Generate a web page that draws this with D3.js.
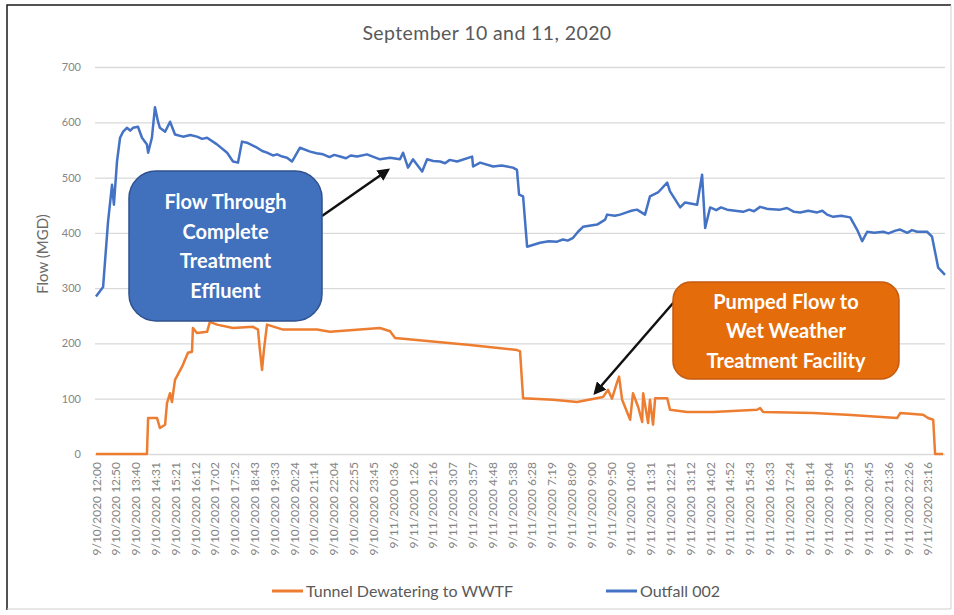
<!DOCTYPE html>
<html>
<head>
<meta charset="utf-8">
<script src="https://cdn.jsdelivr.net/npm/d3@7"></script>
<style>
  body { margin: 0; background: #fff; }
  svg { display: block; font-family: Lato, "Open Sans", sans-serif; }
</style>
</head>
<body>
<div id="chart"></div>
<script>
// x values are hours since 9/10/2020 12:00, y values are flow in MGD
var tickLabels = [
  "9/10/2020 12:00", "9/10/2020 12:50", "9/10/2020 13:40", "9/10/2020 14:31", "9/10/2020 15:21",
  "9/10/2020 16:12", "9/10/2020 17:02", "9/10/2020 17:52", "9/10/2020 18:43", "9/10/2020 19:33",
  "9/10/2020 20:24", "9/10/2020 21:14", "9/10/2020 22:04", "9/10/2020 22:55", "9/10/2020 23:45",
  "9/11/2020 0:36", "9/11/2020 1:26", "9/11/2020 2:16", "9/11/2020 3:07", "9/11/2020 3:57",
  "9/11/2020 4:48", "9/11/2020 5:38", "9/11/2020 6:28", "9/11/2020 7:19", "9/11/2020 8:09",
  "9/11/2020 9:00", "9/11/2020 9:50", "9/11/2020 10:40", "9/11/2020 11:31", "9/11/2020 12:21",
  "9/11/2020 13:12", "9/11/2020 14:02", "9/11/2020 14:52", "9/11/2020 15:43", "9/11/2020 16:33",
  "9/11/2020 17:24", "9/11/2020 18:14", "9/11/2020 19:04", "9/11/2020 19:55", "9/11/2020 20:45",
  "9/11/2020 21:36", "9/11/2020 22:26", "9/11/2020 23:16"
];

var yTicks = [0, 100, 200, 300, 400, 500, 600, 700];

var outfallHours = [0, 0.30, 0.51, 0.68, 0.76, 0.89, 1.02, 1.15, 1.31, 1.45, 1.57, 1.78, 1.95, 2.16, 2.21,
  2.37, 2.50, 2.63, 2.71, 2.93, 3.14, 3.35, 3.69, 4.0, 4.28, 4.5, 4.71, 5.13, 5.56, 5.81,
  6.02, 6.19, 6.40, 6.83, 7.05, 7.25, 7.5, 7.68, 7.9, 8.10, 8.31, 8.65, 9.08, 9.35, 9.63,
  9.9, 10.1, 10.35, 10.6, 10.8, 11.07, 11.49, 12.04, 12.47, 12.89, 13.02, 13.23, 13.44, 13.83, 14.04,
  14.3, 14.59, 14.8, 15.0, 15.31, 15.95, 15.99, 16.29, 16.84, 17.2, 17.68, 17.85, 17.94, 18.11, 18.28,
  18.83, 19.2, 19.55, 19.8, 20.0, 20.23, 20.44, 20.65, 21.25, 21.59, 21.67, 22.0, 22.22, 22.5, 22.7,
  22.94, 23.28, 23.49, 23.83, 24.22, 24.34, 24.77, 24.98, 25.49, 25.70, 25.83, 26.04, 26.3, 26.5, 26.76,
  27.1, 27.44, 27.7, 27.9, 28.16, 28.5, 29.01, 29.3, 29.6, 29.86, 30.2, 30.58, 30.8, 31.0, 31.26,
  31.6, 31.98, 32.27, 32.49, 32.70, 33.0, 33.38, 33.6, 33.9, 34.10, 34.4, 34.6, 34.82, 35.24, 35.45,
  35.67, 35.71, 36.00];
var outfallFlow = [285, 302, 420, 487, 451, 529, 572, 583, 590, 585, 590, 592, 572, 560, 545,
  572, 627, 601, 590, 583, 601, 578, 574, 577, 574, 570, 572, 560, 545, 529,
  527, 565, 563, 554, 548, 545, 540, 542, 538, 536, 529, 554, 547, 544, 542,
  537, 541, 538, 535, 540, 538, 542, 533, 536, 533, 545, 518, 533, 511, 533,
  530, 529, 526, 532, 529, 538, 520, 527, 520, 522, 518, 514, 469, 466, 375,
  382, 385, 384, 388, 386, 391, 402, 411, 415, 424, 433, 431, 433, 437, 440,
  442, 433, 466, 473, 491, 475, 446, 455, 451, 505, 409, 446, 441, 446, 442,
  440, 438, 442, 439, 447, 443, 442, 445, 438, 437, 440, 437, 440, 433, 429,
  431, 428, 406, 385, 402, 400, 402, 399, 404, 406, 400, 405, 402, 402, 393,
  346, 337, 324];

var tunnelHours = [0, 2.16, 2.21, 2.59, 2.71, 2.93, 3.01, 3.14, 3.22, 3.35, 3.65, 3.90, 4.07, 4.11, 4.28,
  4.71, 4.83, 5.13, 5.81, 6.66, 6.87, 6.95, 7.04, 7.12, 7.25, 7.93, 9.37, 9.92, 12.04, 12.47,
  12.68, 15.86, 17.85, 17.98, 18.11, 19.38, 20.40, 21.50, 21.71, 21.88, 22.09, 22.18, 22.31, 22.65, 22.77,
  22.99, 23.16, 23.20, 23.41, 23.49, 23.62, 23.71, 24.22, 24.34, 25.06, 26.17, 28.03, 28.16, 28.29, 30.41,
  31.85, 33.97, 34.10, 35.07, 35.28, 35.50, 35.58, 35.92];
var tunnelFlow = [0, 0, 65, 65, 47, 53, 92, 110, 94, 134, 158, 183, 185, 228, 219,
  221, 239, 234, 228, 230, 225, 188, 152, 188, 234, 225, 225, 221, 228, 222,
  210, 197, 188, 186, 101, 98, 94, 103, 116, 100, 129, 140, 98, 62, 110,
  85, 58, 110, 56, 98, 53, 101, 101, 80, 76, 76, 80, 83, 76, 74,
  71, 65, 74, 71, 65, 62, 0, 0];

var svgWidth = 954;
var svgHeight = 615;

function hoursOf(label) {
  var parts = label.split(" ");
  var day = +parts[0].split("/")[1];
  var hm = parts[1].split(":").map(Number);
  return (day - 10) * 24 + hm[0] + hm[1] / 60 - 12;
}

var svg = d3.select("#chart")
  .append("svg")
  .attr("width", svgWidth)
  .attr("height", svgHeight);

// frame of the pasted picture
svg.append("rect").attr("x", 0).attr("y", 0).attr("width", svgWidth).attr("height", svgHeight).attr("fill", "#fff");
svg.append("path").attr("d", "M7,610 V5 H951").attr("fill", "none").attr("stroke", "#1a1a1a").attr("stroke-width", 1.5);
svg.append("path").attr("d", "M951,5 V609 H7").attr("fill", "none").attr("stroke", "#d0d0d0").attr("stroke-width", 1);

var xScale = d3.scaleLinear().domain([0, 36]).range([96, 945]);
var yScale = d3.scaleLinear().domain([0, 700]).range([454, 67]);

// gridlines + y labels
var yAxis = svg.append("g")
  .attr("transform", "translate(95,0)")
  .call(d3.axisLeft(yScale).tickValues(yTicks).tickSize(-850).tickPadding(14));
yAxis.select(".domain").remove();
yAxis.selectAll(".tick line").attr("stroke", "#d9d9d9").attr("stroke-width", 1.3);
yAxis.selectAll(".tick text").attr("fill", "#858585").attr("font-size", "11px").attr("font-family", "Lato, sans-serif");

// category labels along the bottom
var xAxis = svg.append("g")
  .attr("transform", "translate(0,454)")
  .call(d3.axisBottom(xScale)
    .tickValues(tickLabels.map(hoursOf))
    .tickSize(0)
    .tickFormat(function(d, i) { return tickLabels[i]; }));
xAxis.select(".domain").remove();
xAxis.selectAll(".tick text")
  .attr("transform", "rotate(-90)")
  .attr("text-anchor", "end")
  .attr("x", -8)
  .attr("y", 0)
  .attr("dy", "0.35em")
  .attr("fill", "#858585")
  .attr("font-size", "12px")
  .attr("font-family", "Lato, sans-serif");

var line = d3.line()
  .x(function(d) { return xScale(d[0]); })
  .y(function(d) { return yScale(d[1]); });

var tunnel = tunnelHours.map(function(h, i) { return [h, tunnelFlow[i]]; });
var outfall = outfallHours.map(function(h, i) { return [h, outfallFlow[i]]; });

svg.append("path").datum(tunnel)
  .attr("d", line).attr("fill", "none")
  .attr("stroke", "#ed7d31").attr("stroke-width", 2.5).attr("stroke-linejoin", "round");
svg.append("path").datum(outfall)
  .attr("d", line).attr("fill", "none")
  .attr("stroke", "#4472c4").attr("stroke-width", 2.5).attr("stroke-linejoin", "round");

// title
svg.append("text")
  .attr("x", 487).attr("y", 40)
  .attr("text-anchor", "middle")
  .attr("font-size", "19.5px")
  .attr("letter-spacing", "0.4px")
  .attr("fill", "#595959")
  .text("September 10 and 11, 2020");

// y axis title
svg.append("text")
  .attr("transform", "translate(48,254) rotate(-90)")
  .attr("text-anchor", "middle")
  .attr("font-size", "15px")
  .attr("fill", "#6b6b6b")
  .text("Flow (MGD)");

// legend
var legend = [
  { name: "Tunnel Dewatering to WWTF", color: "#ed7d31", x: 272 },
  { name: "Outfall 002", color: "#4472c4", x: 606 }
];
legend.forEach(function(l) {
  svg.append("line").attr("x1", l.x).attr("x2", l.x + 31).attr("y1", 591).attr("y2", 591)
    .attr("stroke", l.color).attr("stroke-width", 3);
  svg.append("text").attr("x", l.x + 34).attr("y", 597)
    .attr("font-size", "16px").attr("fill", "#595959").text(l.name);
});

// arrows
var defs = svg.append("defs");
defs.append("marker").attr("id", "arrow")
  .attr("viewBox", "0 0 10 10").attr("refX", 8).attr("refY", 5)
  .attr("markerWidth", 5).attr("markerHeight", 5).attr("orient", "auto")
  .append("path").attr("d", "M0,0 L10,5 L0,10 z").attr("fill", "#111");

svg.append("line").attr("x1", 322).attr("y1", 216).attr("x2", 388).attr("y2", 170)
  .attr("stroke", "#111").attr("stroke-width", 2.5).attr("marker-end", "url(#arrow)");
svg.append("line").attr("x1", 674).attr("y1", 302).attr("x2", 595).attr("y2", 393)
  .attr("stroke", "#111").attr("stroke-width", 2.5).attr("marker-end", "url(#arrow)");

// callout boxes
function callout(x, y, w, h, r, fill, stroke, lines, lineY) {
  svg.append("rect").attr("x", x).attr("y", y).attr("width", w).attr("height", h)
    .attr("rx", r).attr("ry", r)
    .attr("fill", fill).attr("stroke", stroke).attr("stroke-width", 1.5);
  lines.forEach(function(t, i) {
    svg.append("text").attr("x", x + w / 2).attr("y", lineY[i])
      .attr("text-anchor", "middle").attr("font-size", "20px").attr("font-weight", "bold")
      .attr("fill", "#fff").text(t);
  });
}
callout(129, 171, 193, 150, 27, "#4170bd", "#2f528f",
  ["Flow Through", "Complete", "Treatment", "Effluent"], [209, 239, 268, 298]);
callout(673, 282, 226, 97, 18, "#e46c0a", "#c55a11",
  ["Pumped Flow to", "Wet Weather", "Treatment Facility"], [309, 338, 368]);
</script>
</body>
</html>
